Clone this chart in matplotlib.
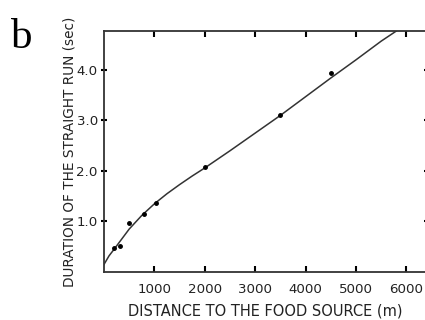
import numpy as np
import matplotlib.pyplot as plt

# measured points (distance in m, duration in sec)
dist = [206, 325, 500, 800, 1040, 2000, 3500, 4500]
dur = [0.48, 0.51, 0.97, 1.15, 1.37, 2.08, 3.11, 3.94]

# fitted curve
curve_x = [0, 100, 200, 350, 500, 750, 1000, 1250, 1500, 1750, 2000, 2500, 3000, 3500, 4000, 4500, 5000, 5500, 5800]
curve_y = [0.15, 0.32, 0.45, 0.65, 0.85, 1.12, 1.35, 1.55, 1.73, 1.90, 2.06, 2.40, 2.75, 3.10, 3.47, 3.84, 4.20, 4.57, 4.77]

xticks = [1000, 2000, 3000, 4000, 5000, 6000]
yticks = [1.0, 2.0, 3.0, 4.0]

plt.rcParams['font.family'] = ['DejaVu Sans']

fig = plt.figure(figsize=(4.25, 3.2), dpi=100)
ax = fig.add_axes([104/425, 48/320, 322.6/425, 241/320])

ax.plot(curve_x, curve_y, color='#333333', lw=1.1)
ax.plot(dist, dur, 'o', color='black', ms=2.5)

ax.set_xlim(0, 6400)
ax.set_ylim(0, 4.77)
ax.set_xticks(xticks)
ax.set_xticklabels([str(v) for v in xticks], fontsize=9.6, color='#222222')
ax.set_yticks(yticks)
ax.set_yticklabels(['%.1f' % v for v in yticks], fontsize=9.6, color='#222222')
ax.tick_params(direction='in', length=4, width=1.5, top=True, right=True, pad=8)
ax.tick_params(axis='y', direction='inout', length=5, pad=2)
for s in ax.spines.values():
    s.set_linewidth(1.3)
    s.set_color('#333333')

ax.set_xlabel('DISTANCE TO THE FOOD SOURCE (m)', fontsize=10.5, labelpad=5, color='#222222')
ax.set_ylabel('DURATION OF THE STRAIGHT RUN (sec)', fontsize=9.8, labelpad=0, color='#222222')

fig.text(0.025, 0.85, 'b', fontsize=31, family='Liberation Serif', color='black')

fig.savefig('out.png', dpi=100)
